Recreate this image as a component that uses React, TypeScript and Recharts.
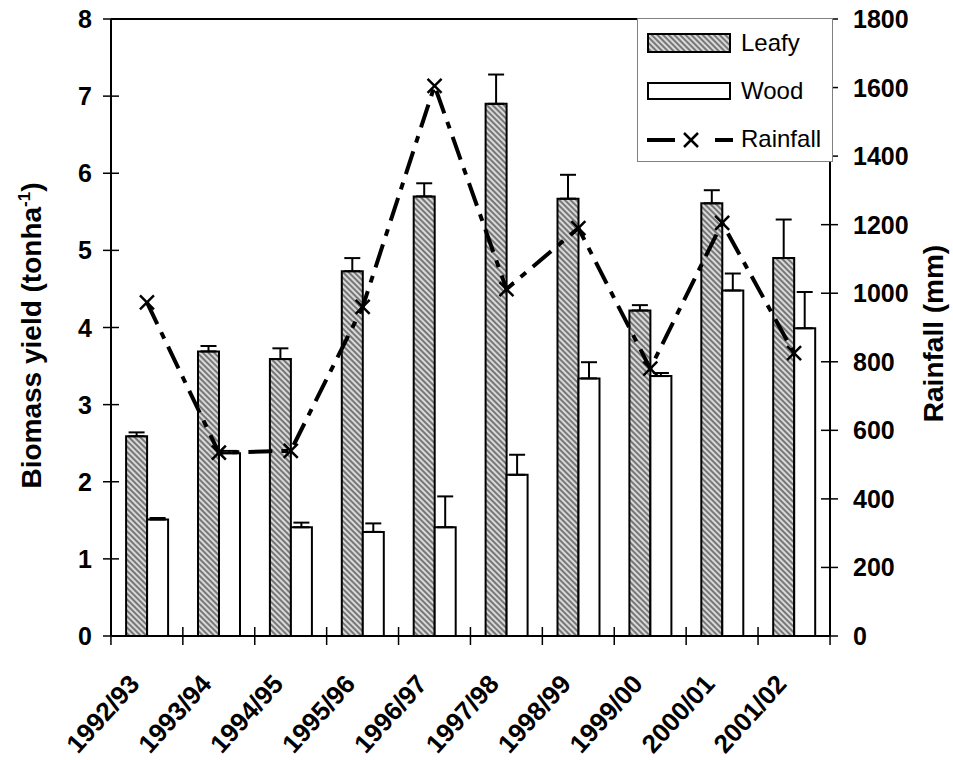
import React from 'react';
import { ComposedChart, Bar, Line, XAxis, YAxis, ErrorBar, ReferenceLine } from 'recharts';

const years = ['1992/93', '1993/94', '1994/95', '1995/96', '1996/97', '1997/98', '1998/99', '1999/00', '2000/01', '2001/02'];
const leafy = [2.59, 3.69, 3.59, 4.73, 5.7, 6.9, 5.67, 4.22, 5.61, 4.9];
const leafyErr = [0.05, 0.07, 0.14, 0.17, 0.17, 0.38, 0.31, 0.07, 0.17, 0.5];
const wood = [1.51, 2.37, 1.41, 1.35, 1.41, 2.09, 3.34, 3.37, 4.48, 3.99];
const woodErr = [0.02, 0.03, 0.06, 0.11, 0.4, 0.26, 0.21, 0.04, 0.22, 0.47];
const rainfall = [973, 535, 540, 960, 1605, 1012, 1190, 780, 1205, 825];
const leftTicks = [0, 1, 2, 3, 4, 5, 6, 7, 8];
const rightTicks = [0, 200, 400, 600, 800, 1000, 1200, 1400, 1600, 1800];

const data = years.map((year, i) => ({
  year,
  leafy: leafy[i],
  leafyErr: [0, leafyErr[i]],
  wood: wood[i],
  woodErr: [0, woodErr[i]],
  rainfall: rainfall[i],
}));

const FONT = 'Arial, "Liberation Sans", sans-serif';
const HALF_BAND = 36;

const LeftTick = (p: any) => {
  const { x, y, payload } = p;
  return (
    <g>
      <line x1={x - 8} x2={x + 8} y1={y} y2={y} stroke="#000" strokeWidth={1.5} />
      <text x={x - 19} y={y} dy="0.36em" textAnchor="end" fontFamily={FONT} fontWeight="bold" fontSize={25} fill="#000">
        {payload.value}
      </text>
    </g>
  );
};

const RightTick = (p: any) => {
  const { x, y, payload } = p;
  return (
    <g>
      <line x1={x - 9} x2={x + 8} y1={y} y2={y} stroke="#000" strokeWidth={1.5} />
      <text x={x + 23} y={y} dy="0.36em" textAnchor="start" fontFamily={FONT} fontWeight="bold" fontSize={25} fill="#000">
        {payload.value}
      </text>
    </g>
  );
};

const XTick = (p: any) => {
  const { x, y, payload, index } = p;
  const tx = x - 6;
  const ty = y + 49;
  return (
    <g>
      <line x1={x - HALF_BAND} x2={x - HALF_BAND} y1={y - 9} y2={y + 9} stroke="#000" strokeWidth={1.5} />
      {index === years.length - 1 ? (
        <line x1={x + HALF_BAND} x2={x + HALF_BAND} y1={y - 9} y2={y + 9} stroke="#000" strokeWidth={1.5} />
      ) : null}
      <text x={tx} y={ty} textAnchor="end" transform={`rotate(-48 ${tx} ${ty})`} fontFamily={FONT} fontWeight="bold" fontSize={26} fill="#000">
        {payload.value}
      </text>
    </g>
  );
};

const XDot = (p: any) => {
  const { cx, cy } = p;
  if (cx == null || cy == null) return null;
  const s = 7;
  return (
    <g>
      <line x1={cx - s} y1={cy - s} x2={cx + s} y2={cy + s} stroke="#000" strokeWidth={2.5} />
      <line x1={cx - s} y1={cy + s} x2={cx + s} y2={cy - s} stroke="#000" strokeWidth={2.5} />
    </g>
  );
};

const LeftTitle = (p: any) => {
  const vb = p.viewBox || { x: 0, y: 19, width: 111, height: 617 };
  const cx = vb.x + 31;
  const cy = vb.y + vb.height / 2 + 8;
  return (
    <text x={cx} y={cy} dy="0.36em" textAnchor="middle" transform={`rotate(-90 ${cx} ${cy})`} fontFamily={FONT} fontWeight="bold" fontSize={28} fill="#000">
      Biomass yield (tonha
      <tspan dy={-11} fontSize={17}>-1</tspan>
      <tspan dy={11}>)</tspan>
    </text>
  );
};

const RightTitle = (p: any) => {
  const vb = p.viewBox || { x: 830, y: 19, width: 123, height: 617 };
  const cx = vb.x + 103;
  const cy = vb.y + vb.height / 2 + 6;
  return (
    <text x={cx} y={cy} dy="0.36em" textAnchor="middle" transform={`rotate(-90 ${cx} ${cy})`} fontFamily={FONT} fontWeight="bold" fontSize={28} fill="#000">
      Rainfall (mm)
    </text>
  );
};

const HatchDef = ({ id }: { id: string }) => (
  <pattern id={id} patternUnits="userSpaceOnUse" width={4} height={4} patternTransform="rotate(-45)">
    <rect width={4} height={4} fill="#d9d9d9" />
    <line x1={2} y1={0} x2={2} y2={4} stroke="#4d4d4d" strokeWidth={1.4} />
  </pattern>
);

const legendText: React.CSSProperties = {
  position: 'absolute',
  left: 103,
  fontFamily: FONT,
  fontSize: 24,
  lineHeight: '24px',
  color: '#000',
  whiteSpace: 'nowrap',
};

const LegendBox = () => (
  <div
    style={{
      position: 'absolute',
      left: 637,
      top: 18,
      width: 196,
      height: 144,
      background: '#fff',
      border: '1.5px solid #808080',
      boxSizing: 'border-box',
    }}
  >
    <svg style={{ position: 'absolute', left: 9, top: 14 }} width={85} height={21}>
      <defs>
        <HatchDef id="hatchLegend" />
      </defs>
      <rect x={1} y={1} width={82} height={18} fill="url(#hatchLegend)" stroke="#000" strokeWidth={2} />
    </svg>
    <div style={{ ...legendText, top: 12 }}>Leafy</div>
    <svg style={{ position: 'absolute', left: 9, top: 63 }} width={85} height={20}>
      <rect x={1} y={1} width={82} height={16} fill="#fff" stroke="#000" strokeWidth={2} />
    </svg>
    <div style={{ ...legendText, top: 60 }}>Wood</div>
    <svg style={{ position: 'absolute', left: 9, top: 108 }} width={90} height={26}>
      <line x1={0} y1={13} x2={28} y2={13} stroke="#000" strokeWidth={4} />
      <line x1={37} y1={6} x2={51} y2={20} stroke="#000" strokeWidth={2.5} />
      <line x1={37} y1={20} x2={51} y2={6} stroke="#000" strokeWidth={2.5} />
      <line x1={68} y1={13} x2={86} y2={13} stroke="#000" strokeWidth={4} />
    </svg>
    <div style={{ ...legendText, top: 108 }}>Rainfall</div>
  </div>
);

export default function App() {
  return (
    <div style={{ position: 'absolute', left: 0, top: 0, width: 953, height: 760, background: '#fff' }}>
      <ComposedChart
        width={953}
        height={760}
        data={data}
        margin={{ top: 19, right: 0, bottom: 0, left: 0 }}
        barCategoryGap="21%"
        barGap={0}
      >
        <defs>
          <HatchDef id="hatch" />
        </defs>
        <XAxis
          dataKey="year"
          height={124}
          interval={0}
          tickLine={false}
          tickSize={0}
          tickMargin={0}
          axisLine={{ stroke: '#000', strokeWidth: 2 }}
          tick={<XTick />}
        />
        <YAxis
          yAxisId="left"
          domain={[0, 8]}
          ticks={leftTicks}
          interval={0}
          width={111}
          tickLine={false}
          tickSize={0}
          tickMargin={0}
          axisLine={{ stroke: '#000', strokeWidth: 2 }}
          tick={<LeftTick />}
          label={<LeftTitle />}
        />
        <YAxis
          yAxisId="right"
          orientation="right"
          domain={[0, 1800]}
          ticks={rightTicks}
          interval={0}
          width={123}
          tickLine={false}
          tickSize={0}
          tickMargin={0}
          axisLine={{ stroke: '#000', strokeWidth: 2 }}
          tick={<RightTick />}
          label={<RightTitle />}
        />
        <ReferenceLine yAxisId="left" y={8} stroke="#000" strokeWidth={2} />
        <Bar yAxisId="left" dataKey="leafy" fill="url(#hatch)" stroke="#000" strokeWidth={2} isAnimationActive={false}>
          <ErrorBar dataKey="leafyErr" width={8} stroke="#000" strokeWidth={2} direction="y" />
        </Bar>
        <Bar yAxisId="left" dataKey="wood" fill="#fff" stroke="#000" strokeWidth={2} isAnimationActive={false}>
          <ErrorBar dataKey="woodErr" width={8} stroke="#000" strokeWidth={2} direction="y" />
        </Bar>
        <Line
          yAxisId="right"
          type="linear"
          dataKey="rainfall"
          stroke="#000"
          strokeWidth={4}
          strokeDasharray="24 9 7 9"
          dot={<XDot />}
          activeDot={false}
          isAnimationActive={false}
        />
      </ComposedChart>
      <LegendBox />
    </div>
  );
}
